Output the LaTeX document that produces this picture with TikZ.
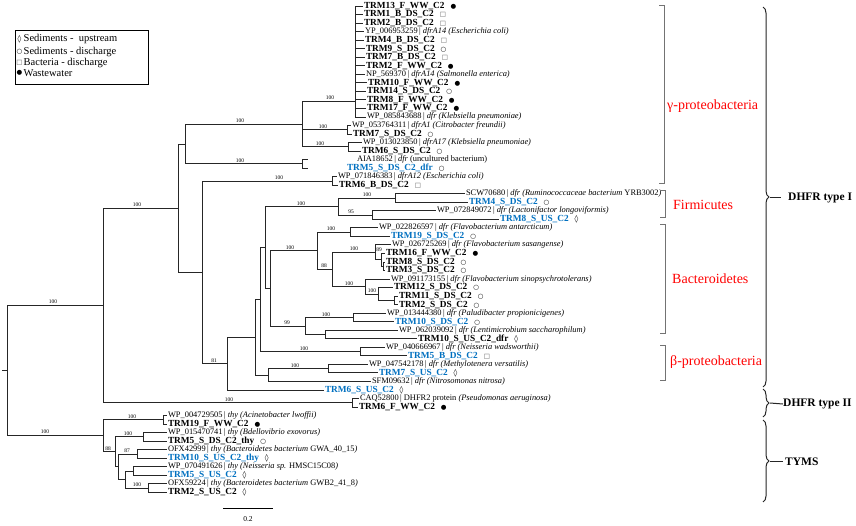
\documentclass[tikz,border=0pt]{standalone}
\usepackage{fontspec}
\setmainfont{Liberation Serif}
\newfontfamily\symf{DejaVu Sans}
\usetikzlibrary{decorations.pathreplacing}
\definecolor{tblue}{RGB}{0,112,192}
\definecolor{cred}{RGB}{255,0,0}
\newcommand\mkWW{\hspace{6pt}{\symf\fontsize{6.5}{6}\selectfont ●}}
\newcommand\mkSD{\hspace{6pt}{\symf\fontsize{6.5}{6}\selectfont ○}}
\newcommand\mkBD{\hspace{6pt}{\symf\fontsize{6.5}{6}\selectfont\color{black!65}□}}
\newcommand\mkSU{\hspace{6pt}{\symf\fontsize{7.5}{6}\selectfont ◊}}
\newcommand\lbk[1]{{\fontsize{9.3}{10}\selectfont\textbf{#1}}}
\newcommand\lbb[1]{{\fontsize{9.3}{10}\selectfont\textcolor{tblue}{\textbf{#1}}}}
\begin{document}
\begin{tikzpicture}[x=1pt,y=-1pt,
  br/.style={draw=black!85,line width=0.7pt},
  lf/.style={anchor=west,inner sep=0.8pt,font=\fontsize{8.4}{9}\selectfont},
  bs/.style={inner sep=0pt,font=\fontsize{5.5}{6}\selectfont},
  cb/.style={draw=black!55,line width=0.6pt},
  clab/.style={anchor=west,inner sep=0pt,text=cred,font=\fontsize{14}{16}\selectfont},
  brc/.style={draw=black!85,line width=1pt,decorate,decoration={brace,amplitude=6pt}},
  brl/.style={draw=black!85,line width=1pt},
  tlab/.style={anchor=west,inner sep=0pt,font=\fontsize{11.5}{13}\selectfont\bfseries},
  lg/.style={anchor=west,inner sep=0pt,font=\fontsize{10.5}{12}\selectfont},
  lgs/.style={inner sep=0pt}
]
\useasboundingbox (0,0) rectangle (856,525);
\fill[white] (0,0) rectangle (856,525);

% ---------- legend ----------
\draw[line width=0.7pt] (15,30) rectangle (148.3,84.3);
\node[lgs] (s1) at (19.5,39.3) {\symf\fontsize{7.5}{6}\selectfont ◊};
\node[lgs] (s2) at (19.5,51.7) {\symf\fontsize{6.5}{6}\selectfont ○};
\node[lgs] (s3) at (19.5,62.7) {\symf\fontsize{6.5}{6}\selectfont\color{black!65}□};
\node[lgs] (s4) at (19.5,72.7) {\symf\fontsize{6.5}{6}\selectfont ●};
\node[lg] (lg1) at (23.5,39.3) {Sediments -\ \ upstream};
\node[lg] (lg2) at (23.5,51.7) {Sediments - discharge};
\node[lg] (lg3) at (23.5,62.7) {Bacteria - discharge};
\node[lg] (lg4) at (23.5,72.7) {Wastewater};

% ---------- leaves ----------
\node[lf] (l1) at (363,6.0) {\lbk{TRM13\_F\_WW\_C2}\mkWW};
\node[lf] (l2) at (363,14.5) {\lbk{TRM1\_B\_DS\_C2}\mkBD};
\node[lf] (l3) at (363,23.1) {\lbk{TRM2\_B\_DS\_C2}\mkBD};
\node[lf] (l4) at (364,31.6) {YP\_006953259\,|\ \textit{dfrA14 (Escherichia coli)}};
\node[lf] (l5) at (364,40.1) {\lbk{TRM4\_B\_DS\_C2}\mkBD};
\node[lf] (l6) at (365,48.7) {\lbk{TRM9\_S\_DS\_C2}\mkSD};
\node[lf] (l7) at (365,57.2) {\lbk{TRM7\_B\_DS\_C2}\mkBD};
\node[lf] (l8) at (365,65.7) {\lbk{TRM2\_F\_WW\_C2}\mkWW};
\node[lf] (l9) at (365,74.2) {NP\_569370\,|\ \textit{dfrA14 (Salmonella enterica)}};
\node[lf] (l10) at (367,82.8) {\lbk{TRM10\_F\_WW\_C2}\mkWW};
\node[lf] (l11) at (366,91.3) {\lbk{TRM14\_S\_DS\_C2}\mkSD};
\node[lf] (l12) at (366,99.8) {\lbk{TRM8\_F\_WW\_C2}\mkWW};
\node[lf] (l13) at (366,108.4) {\lbk{TRM17\_F\_WW\_C2}\mkWW};
\node[lf] (l14) at (366,116.9) {WP\_085843688\,|\ \textit{dfr (Klebsiella pneumoniae)}};
\node[lf] (l15) at (351,125.4) {WP\_053764311\,|\ \textit{dfrA1 (Citrobacter freundii)}};
\node[lf] (l16) at (352,134.0) {\lbk{TRM7\_S\_DS\_C2}\mkSD};
\node[lf] (l17) at (362,142.5) {WP\_013023850\,|\ \textit{dfrA17 (Klebsiella pneumoniae)}};
\node[lf] (l18) at (361,151.0) {\lbk{TRM6\_S\_DS\_C2}\mkSD};
\node[lf] (l19) at (356,159.5) {AIA18652\,|\ \textit{dfr} (uncultured bacterium)};
\node[lf] (l20) at (346,168.1) {\lbb{TRM5\_S\_DS\_C2\_dfr}\mkSD};
\node[lf] (l21) at (337,176.6) {WP\_071846383\,|\ \textit{dfrA12 (Escherichia coli)}};
\node[lf] (l22) at (338,185.1) {\lbk{TRM6\_B\_DS\_C2}\mkBD};
\node[lf] (l23) at (465,193.7) {SCW70680\,|\ \textit{dfr (Ruminococcaceae bacterium} YRB3002\textit{)}};
\node[lf] (l24) at (468,202.2) {\lbb{TRM4\_S\_DS\_C2}\mkSD};
\node[lf] (l25) at (436,210.7) {WP\_072849072\,|\ \textit{dfr (Lactonifactor longoviformis)}};
\node[lf] (l26) at (499,219.3) {\lbb{TRM8\_S\_US\_C2}\mkSU};
\node[lf] (l27) at (378,227.8) {WP\_022826597\,|\ \textit{dfr (Flavobacterium antarcticum)}};
\node[lf] (l28) at (390,236.3) {\lbb{TRM19\_S\_DS\_C2}\mkSD};
\node[lf] (l29) at (391,244.8) {WP\_026725269\,|\ \textit{dfr (Flavobacterium sasangense)}};
\node[lf] (l30) at (385,253.4) {\lbk{TRM16\_F\_WW\_C2}\mkWW};
\node[lf] (l31) at (385,261.9) {\lbk{TRM8\_S\_DS\_C2}\mkSD};
\node[lf] (l32) at (385,270.4) {\lbk{TRM3\_S\_DS\_C2}\mkSD};
\node[lf] (l33) at (390,279.0) {WP\_091173155\,|\ \textit{dfr (Flavobacterium sinopsychrotolerans)}};
\node[lf] (l34) at (393,287.5) {\lbk{TRM12\_S\_DS\_C2}\mkSD};
\node[lf] (l35) at (398,296.0) {\lbk{TRM11\_S\_DS\_C2}\mkSD};
\node[lf] (l36) at (398,304.6) {\lbk{TRM2\_S\_DS\_C2}\mkSD};
\node[lf] (l37) at (386,313.1) {WP\_013444380\,|\ \textit{dfr (Paludibacter propionicigenes)}};
\node[lf] (l38) at (394,321.6) {\lbb{TRM10\_S\_DS\_C2}\mkSD};
\node[lf] (l39) at (398,330.1) {WP\_062039092\,|\ \textit{dfr (Lentimicrobium saccharophilum)}};
\node[lf] (l40) at (417,338.7) {\lbk{TRM10\_S\_US\_C2\_dfr}\mkSU};
\node[lf] (l41) at (385,347.2) {WP\_040666967\,|\ \textit{dfr (Neisseria wadsworthii)}};
\node[lf] (l42) at (407,355.7) {\lbb{TRM5\_B\_DS\_C2}\mkBD};
\node[lf] (l43) at (368,364.3) {WP\_047542178\,|\ \textit{dfr (Methylotenera versatilis)}};
\node[lf] (l44) at (378,372.8) {\lbb{TRM7\_S\_US\_C2}\mkSU};
\node[lf] (l45) at (371,381.3) {SFM09632\,|\ \textit{dfr (Nitrosomonas nitrosa)}};
\node[lf] (l46) at (324,389.9) {\lbb{TRM6\_S\_US\_C2}\mkSU};
\node[lf] (l47) at (359,398.4) {CAQ52800\,|\ DHFR2 protein \textit{(Pseudomonas aeruginosa)}};
\node[lf] (l48) at (358,406.9) {\lbk{TRM6\_F\_WW\_C2}\mkWW};
\node[lf] (l49) at (167,415.4) {WP\_004729505\,|\ \textit{thy (Acinetobacter lwoffii)}};
\node[lf] (l50) at (167,424.0) {\lbk{TRM19\_F\_WW\_C2}\mkWW};
\node[lf] (l51) at (167,432.5) {WP\_015470741\,|\ \textit{thy (Bdellovibrio exovorus)}};
\node[lf] (l52) at (167,441.0) {\lbk{TRM5\_S\_DS\_C2\_thy}\mkSD};
\node[lf] (l53) at (167,449.6) {OFX42999\,|\ \textit{thy (Bacteroidetes bacterium} GWA\_40\_15\textit{)}};
\node[lf] (l54) at (167,458.1) {\lbb{TRM10\_S\_US\_C2\_thy}\mkSU};
\node[lf] (l55) at (167,466.6) {WP\_070491626\,|\ \textit{thy (Neisseria sp.} HMSC15C08\textit{)}};
\node[lf] (l56) at (167,475.2) {\lbb{TRM5\_S\_US\_C2}\mkSU};
\node[lf] (l57) at (167,483.7) {OFX59224\,|\ \textit{thy (Bacteroidetes bacterium} GWB2\_41\_8\textit{)}};
\node[lf] (l58) at (167,492.2) {\lbk{TRM2\_S\_US\_C2}\mkSU};

% ---------- internal nodes ----------
\coordinate (Rs) at (2,370.6);
\coordinate (R) at (7,370.6);
\coordinate (NA) at (103,305.5);
\coordinate (NT) at (103,435.7);
\coordinate (NB) at (178,208.3);
\coordinate (DH2) at (352,402.65);
\coordinate (NC) at (185,144.4);
\coordinate (ND) at (202,272.2);
\coordinate (G1) at (302,123.9);
\coordinate (AIA) at (302,163.8);
\coordinate (a19) at (308,159.5);
\coordinate (a20) at (308,168.1);
\coordinate (P) at (355,101);
\coordinate (pr1) at (347,129.7);
\coordinate (pr2) at (348,146.75);
\coordinate (pr3) at (332,180.85);
\coordinate (NE) at (227,363.5);
\coordinate (NF) at (255,337.15);
\coordinate (NF2) at (260,299.4);
\coordinate (NF3) at (265,247.4);
\coordinate (Nbeta) at (268,374.9);
\coordinate (NFi) at (338,206.5);
\coordinate (SCW) at (395,197.95);
\coordinate (WP07) at (372,215.0);
\coordinate (NBa) at (270,288.25);
\coordinate (NBb) at (317,250.6);
\coordinate (Flavo) at (350,232.05);
\coordinate (NBc) at (332,269.2);
\coordinate (NBd) at (375,252);
\coordinate (NBe) at (381,259.8);
\coordinate (pr31) at (383,266.15);
\coordinate (NBf) at (365,286.45);
\coordinate (NBg) at (378,293.9);
\coordinate (pr35) at (394,300.3);
\coordinate (NBh) at (305,325.9);
\coordinate (pr37) at (353,317.35);
\coordinate (pr39) at (325,334.4);
\coordinate (pr41) at (360,351.45);
\coordinate (pr43) at (328,368.55);
\coordinate (T0) at (163,419.7);
\coordinate (NT2) at (115,451.7);
\coordinate (T1) at (143,436.75);
\coordinate (NT3) at (118,466.6);
\coordinate (T2) at (137,453.85);
\coordinate (NT4) at (125,479.4);
\coordinate (T3) at (133,470.9);
\coordinate (T4) at (148,487.95);

% ---------- branches ----------
\draw[br] (Rs) -- (R);
\draw[br] (R) |- (NA);
\draw[br] (R) |- (NT);
\draw[br] (NA) |- (NB);
\draw[br] (NA) |- (DH2);
\draw[br] (NB) |- (NC);
\draw[br] (NB) |- (ND);
\draw[br] (NC) |- (G1);
\draw[br] (NC) |- (AIA);
\draw[br] (G1) |- (P);
\draw[br] (G1) |- (pr1);
\draw[br] (G1) |- (pr2);
\foreach \i in {1,...,14} {\draw[br] (P) |- (l\i.west);}
\draw[br] (pr1) |- (l15.west);
\draw[br] (pr1) |- (l16.west);
\draw[br] (pr2) |- (l17.west);
\draw[br] (pr2) |- (l18.west);
\draw[br] (AIA) |- (a19);
\draw[br] (AIA) |- (a20);
\draw[br] (ND) |- (pr3);
\draw[br] (ND) |- (NE);
\draw[br] (pr3) |- (l21.west);
\draw[br] (pr3) |- (l22.west);
\draw[br] (NE) |- (NF);
\draw[br] (NE) |- (l46.west);
\draw[br] (NF) |- (NF2);
\draw[br] (NF) |- (Nbeta);
\draw[br] (NF2) |- (NF3);
\draw[br] (NF2) |- (pr41);
\draw[br] (NF3) |- (NFi);
\draw[br] (NF3) |- (NBa);
\draw[br] (NFi) |- (SCW);
\draw[br] (NFi) |- (WP07);
\draw[br] (SCW) |- (l23.west);
\draw[br] (SCW) |- (l24.west);
\draw[br] (WP07) |- (l25.west);
\draw[br] (WP07) |- (l26.west);
\draw[br] (NBa) |- (NBb);
\draw[br] (NBa) |- (NBh);
\draw[br] (NBb) |- (Flavo);
\draw[br] (NBb) |- (NBc);
\draw[br] (Flavo) |- (l27.west);
\draw[br] (Flavo) |- (l28.west);
\draw[br] (NBc) |- (NBd);
\draw[br] (NBc) |- (NBf);
\draw[br] (NBd) |- (l29.west);
\draw[br] (NBd) |- (NBe);
\draw[br] (NBe) |- (l30.west);
\draw[br] (NBe) |- (pr31);
\draw[br] (pr31) |- (l31.west);
\draw[br] (pr31) |- (l32.west);
\draw[br] (NBf) |- (l33.west);
\draw[br] (NBf) |- (NBg);
\draw[br] (NBg) |- (l34.west);
\draw[br] (NBg) |- (pr35);
\draw[br] (pr35) |- (l35.west);
\draw[br] (pr35) |- (l36.west);
\draw[br] (NBh) |- (pr37);
\draw[br] (NBh) |- (pr39);
\draw[br] (pr37) |- (l37.west);
\draw[br] (pr37) |- (l38.west);
\draw[br] (pr39) |- (l39.west);
\draw[br] (pr39) |- (l40.west);
\draw[br] (pr41) |- (l41.west);
\draw[br] (pr41) |- (l42.west);
\draw[br] (Nbeta) |- (pr43);
\draw[br] (Nbeta) |- (l45.west);
\draw[br] (pr43) |- (l43.west);
\draw[br] (pr43) |- (l44.west);
\draw[br] (DH2) |- (l47.west);
\draw[br] (DH2) |- (l48.west);
\draw[br] (NT) |- (T0);
\draw[br] (NT) |- (NT2);
\draw[br] (T0) |- (l49.west);
\draw[br] (T0) |- (l50.west);
\draw[br] (NT2) |- (T1);
\draw[br] (NT2) |- (NT3);
\draw[br] (T1) |- (l51.west);
\draw[br] (T1) |- (l52.west);
\draw[br] (NT3) |- (T2);
\draw[br] (NT3) |- (NT4);
\draw[br] (T2) |- (l53.west);
\draw[br] (T2) |- (l54.west);
\draw[br] (NT4) |- (T3);
\draw[br] (NT4) |- (T4);
\draw[br] (T3) |- (l55.west);
\draw[br] (T3) |- (l56.west);
\draw[br] (T4) |- (l57.west);
\draw[br] (T4) |- (l58.west);

% ---------- bootstrap values ----------
\node[bs] (b1) at (53,301.8) {100};
\node[bs] (b2) at (45,432) {100};
\node[bs] (b3) at (137,205) {100};
\node[bs] (b4) at (229,399.4) {100};
\node[bs] (b5) at (240,121) {100};
\node[bs] (b6) at (240,160.6) {100};
\node[bs] (b7) at (330,98) {100};
\node[bs] (b8) at (323,126.6) {100};
\node[bs] (b9) at (320,143.6) {100};
\node[bs] (b10) at (279,177.7) {100};
\node[bs] (b11) at (214,360.4) {81};
\node[bs] (b12) at (301,203.4) {100};
\node[bs] (b13) at (367,194.8) {100};
\node[bs] (b14) at (351,211.9) {95};
\node[bs] (b15) at (290,247.5) {100};
\node[bs] (b16) at (331,229) {100};
\node[bs] (b17) at (324,266.1) {88};
\node[bs] (b18) at (354,248.9) {100};
\node[bs] (b19) at (379,250) {89};
\node[bs] (b20) at (349,283.3) {100};
\node[bs] (b21) at (372,290.8) {100};
\node[bs] (b22) at (287,322.8) {99};
\node[bs] (b23) at (326,314.2) {100};
\node[bs] (b24) at (304,348.3) {100};
\node[bs] (b25) at (295,365.4) {100};
\node[bs] (b26) at (132,416.6) {100};
\node[bs] (b27) at (108,448.6) {88};
\node[bs] (b28) at (128,433.6) {100};
\node[bs] (b29) at (127,450.7) {87};
\node[bs] (b30) at (137,484.8) {100};

% ---------- scale bar ----------
\coordinate (sb1) at (223,508);
\coordinate (sb2) at (273,508);
\draw[line width=1pt] (sb1) -- (sb2);
\node[inner sep=0pt,font=\fontsize{7.5}{8}\selectfont] (sbl) at (248,519) {0.2};

% ---------- clade brackets ----------
\draw[cb] (659,5) -- (664,5) -- (664,183) -- (659,183);
\draw[cb] (660,190) -- (665,190) -- (665,217) -- (660,217);
\draw[cb] (660,224) -- (665,224) -- (665,333) -- (660,333);
\draw[cb] (660,345) -- (665,345) -- (665,380) -- (660,380);
\node[clab] (cg) at (667,106) {γ-proteobacteria};
\node[clab] (cf) at (673,205) {Firmicutes};
\node[clab] (cba) at (672,279) {Bacteroidetes};
\node[clab] (cbe) at (670,362) {β-proteobacteria};

% ---------- group braces ----------
\draw[brc] (763,7) -- (763,387);
\draw[brc] (763,389) -- (763,417);
\draw[brc] (763,420) -- (763,502);
\coordinate (k1) at (770,197);
\coordinate (k2) at (770,403);
\coordinate (k3) at (770,461);
\node[tlab] (t1) at (788,198) {DHFR type I};
\node[tlab] (t2) at (783,404) {DHFR type II};
\node[tlab] (t3) at (785,462) {TYMS};
\draw[brl] (k1) -- ++(11,0);
\draw[brl] (k2) -- (t2.west);
\draw[brl] (k3) -- ++(13,0);
\end{tikzpicture}
\end{document}
